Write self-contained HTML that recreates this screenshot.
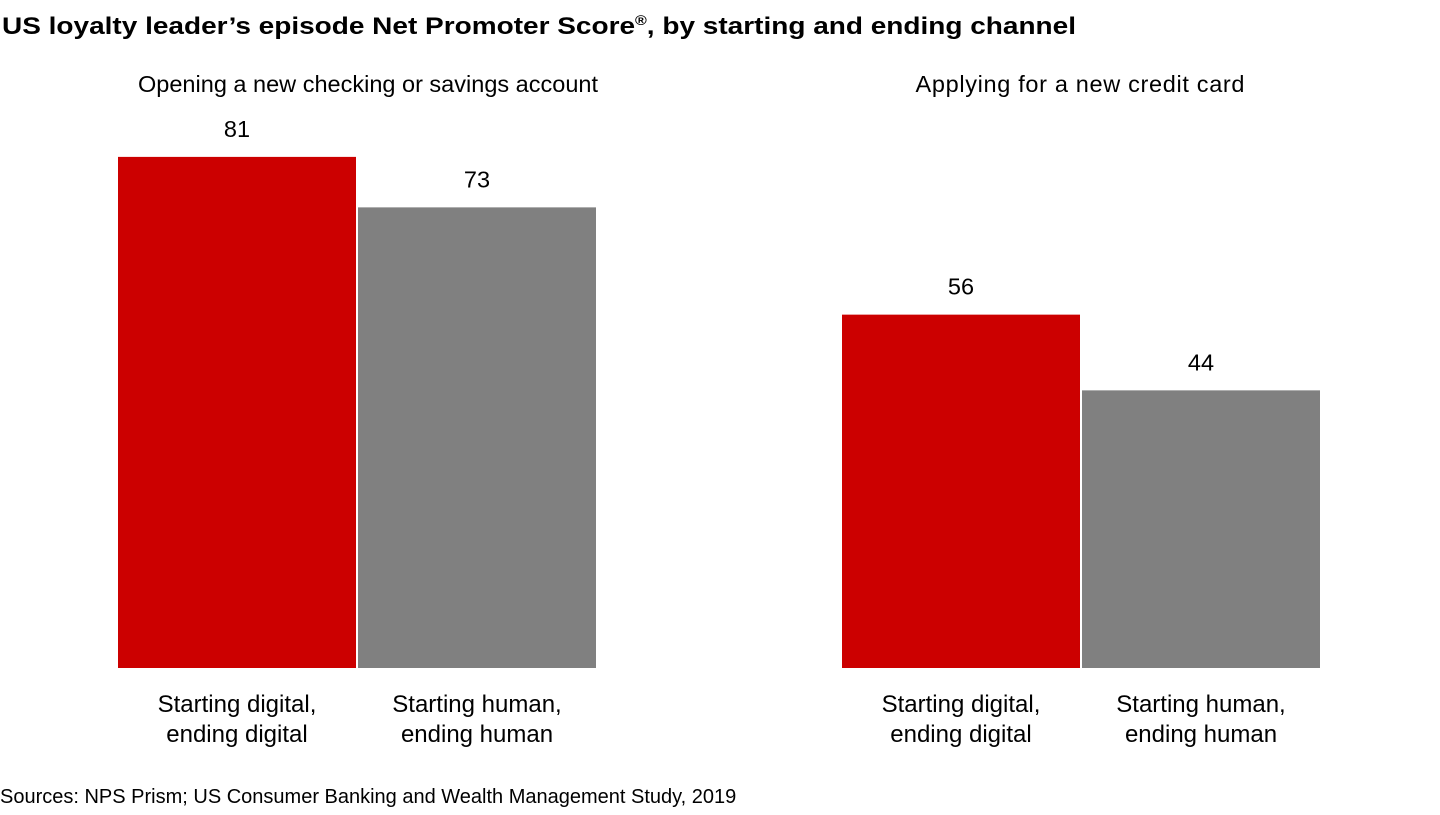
<!DOCTYPE html>
<html><head><meta charset="utf-8"><style>
body{margin:0;width:1440px;height:810px;background:#fff;font-family:"Liberation Sans",Arial,sans-serif;overflow:hidden;position:relative}
</style></head><body>
<svg width="1440" height="810">
<text x="2" y="34" font-size="24.5" font-weight="bold" fill="#000" textLength="1074" lengthAdjust="spacingAndGlyphs">US loyalty leader’s episode Net Promoter Score<tspan font-size="14" dy="-9">®</tspan><tspan dy="9">, by starting and ending channel</tspan></text>
<g id="bars"></g>
<text x="0" y="803" font-size="20" fill="#000">Sources: NPS Prism; US Consumer Banking and Wealth Management Study, 2019</text>
</svg>
<script>
const groups=["Opening a new checking or savings account","Applying for a new credit card"];
const categories=["Starting digital,|ending digital","Starting human,|ending human"];
const digitalValues=[81,56];
const humanValues=[73,44];
const colors=["#cc0000","#808080"];
const NS="http://www.w3.org/2000/svg";
const g=document.getElementById('bars');
const base=668, scale=6.31, barW=238, gap=2;
const groupX=[118,842];
const titleCenter=[368,1080];
const titleLen=[460,329];
function y(v){return base-v*scale;}
function t(x,yy,s,txt,anchor){const e=document.createElementNS(NS,'text');e.setAttribute('x',x);e.setAttribute('y',yy);e.setAttribute('font-size',s);e.setAttribute('text-anchor',anchor||'middle');e.textContent=txt;g.appendChild(e);return e;}
groups.forEach((name,gi)=>{
  const gx=groupX[gi];
  const st=t(titleCenter[gi],92,23.5,name);
  st.setAttribute('textLength',titleLen[gi]);
  
  
  [digitalValues[gi],humanValues[gi]].forEach((v,si)=>{
    const x=gx+si*(barW+gap);
    const r=document.createElementNS(NS,'rect');
    r.setAttribute('x',x);r.setAttribute('y',y(v));r.setAttribute('width',barW);r.setAttribute('height',base-y(v));r.setAttribute('fill',colors[si]);
    
    
    g.appendChild(r);
    const l=t(x+barW/2,y(v)-20,23.5,String(v));
    
    
    categories[si].split('|').forEach((line,li)=>{
      const c=t(x+barW/2,712+li*30,24,line);
      
      
    });
  });
});
</script>
</body></html>
